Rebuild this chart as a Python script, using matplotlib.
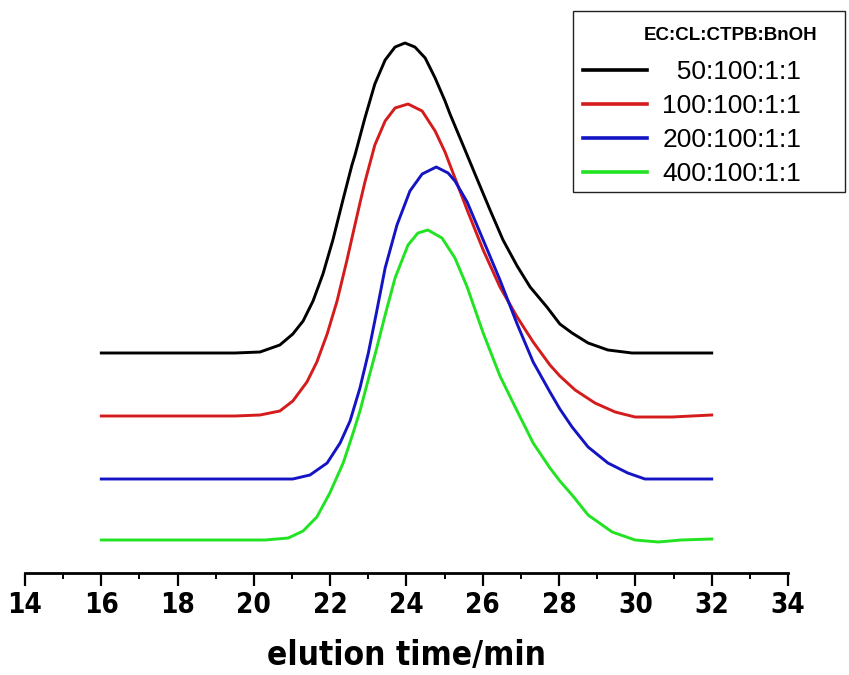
import numpy as np
import matplotlib
matplotlib.use("Agg")
import matplotlib.pyplot as plt
from matplotlib import font_manager as fm
from matplotlib.patches import Rectangle
from matplotlib.ticker import MultipleLocator

x_black = [16, 18, 19.5, 20.16, 20.68, 21.02, 21.29, 21.55, 21.81, 22.07, 22.34, 22.57, 22.65,
           22.91, 23.17, 23.44, 23.70, 23.96, 24.22, 24.49, 24.75, 25.01, 25.14, 25.48, 25.85,
           26.19, 26.53, 26.90, 27.24, 27.68, 28.02, 28.34, 28.76, 29.28, 29.91, 31, 32]
y_black = [2.20, 2.20, 2.20, 2.21, 2.28, 2.39, 2.52, 2.72, 2.99, 3.33, 3.74, 4.08, 4.18,
           4.55, 4.89, 5.13, 5.26, 5.30, 5.26, 5.15, 4.95, 4.72, 4.59, 4.28, 3.94,
           3.63, 3.33, 3.07, 2.86, 2.66, 2.49, 2.40, 2.30, 2.23, 2.20, 2.20, 2.20]

x_red = [16, 18, 19.5, 20.16, 20.68, 21.02, 21.39, 21.65, 21.92, 22.18, 22.44, 22.60, 22.78,
         22.91, 23.17, 23.44, 23.70, 24.04, 24.41, 24.75, 25.01, 25.14, 25.59, 26.01, 26.45,
         26.90, 27.32, 27.76, 28.02, 28.42, 28.94, 29.47, 29.99, 30.96, 32]
y_red = [1.57, 1.57, 1.57, 1.58, 1.62, 1.72, 1.91, 2.11, 2.39, 2.72, 3.13, 3.40, 3.70,
         3.91, 4.28, 4.52, 4.65, 4.69, 4.62, 4.42, 4.21, 4.08, 3.63, 3.23, 2.86,
         2.56, 2.31, 2.08, 1.97, 1.83, 1.70, 1.61, 1.56, 1.56, 1.58]

x_blue = [16, 18, 20.2, 21.02, 21.47, 21.92, 22.26, 22.52, 22.78, 23.0, 23.2, 23.44, 23.75,
          24.09, 24.41, 24.78, 25.09, 25.27, 25.59, 26.01, 26.45, 26.90, 27.32, 27.76, 28.02,
          28.34, 28.76, 29.28, 29.80, 30.25, 31, 32]
y_blue = [0.94, 0.94, 0.94, 0.94, 0.98, 1.10, 1.30, 1.52, 1.85, 2.20, 2.58, 3.05, 3.48,
          3.82, 3.99, 4.06, 4.00, 3.92, 3.71, 3.33, 2.93, 2.49, 2.11, 1.81, 1.64,
          1.46, 1.26, 1.10, 1.00, 0.94, 0.94, 0.94]

x_green = [16, 18, 20.3, 20.9, 21.29, 21.65, 21.99, 22.34, 22.6, 22.78, 22.96, 23.2, 23.44,
           23.70, 24.04, 24.30, 24.56, 24.93, 25.27, 25.59, 26.01, 26.45, 26.90, 27.32, 27.76,
           28.02, 28.34, 28.76, 29.39, 29.99, 30.6, 31.2, 32]
y_green = [0.33, 0.33, 0.33, 0.35, 0.42, 0.56, 0.80, 1.10, 1.40, 1.62, 1.88, 2.22, 2.58,
           2.95, 3.28, 3.40, 3.43, 3.35, 3.15, 2.86, 2.40, 1.97, 1.62, 1.30, 1.05,
           0.92, 0.78, 0.58, 0.41, 0.33, 0.31, 0.33, 0.34]

labels = ["  50:100:1:1", "100:100:1:1", "200:100:1:1", "400:100:1:1"]
colors = ["#000000", "#d41c1c", "#1414c4", "#22e322"]
legend_title = "EC:CL:CTPB:BnOH"
x_ticks = [14, 16, 18, 20, 22, 24, 26, 28, 30, 32, 34]


def pick_narrow():
    # prefer a condensed bold face if one is installed
    for fam, st in [("Liberation Sans Narrow", "normal"), ("DejaVu Sans", "condensed")]:
        fp = fm.FontProperties(family=fam, weight="bold", stretch=st)
        try:
            path = fm.findfont(fp, fallback_to_default=False)
        except Exception:
            continue
        if "Narrow" in path or "Condensed" in path:
            return fm.FontProperties(fname=path)
    return fm.FontProperties(family="Liberation Sans", weight="bold")


narrow = pick_narrow()
W, H = 849, 675

fig = plt.figure(figsize=(8.49, 6.75), dpi=100)
ax = fig.add_axes([25 / W, 1 - 573 / H, (788 - 25) / W, (573 - 20) / H])

series = [(x_black, y_black), (x_red, y_red), (x_blue, y_blue), (x_green, y_green)]
for (xs, ys), c, lab in zip(series, colors, labels):
    ax.plot(xs, ys, color=c, lw=2.1, label=lab, solid_joinstyle="round")

ax.set_xlim(14, 34)
ax.set_ylim(0, 5.53)
for s in ["left", "right", "top"]:
    ax.spines[s].set_visible(False)
ax.spines["bottom"].set_linewidth(2.0)
ax.set_yticks([])
ax.set_xticks(x_ticks)
ax.xaxis.set_minor_locator(MultipleLocator(1))
ax.tick_params(axis="x", which="major", length=9, width=1.6, direction="out", pad=4)
ax.tick_params(axis="x", which="minor", length=4.5, width=1.4, direction="out")
for t in ax.get_xticklabels():
    t.set_fontproperties(narrow)
    t.set_fontsize(20)

xl = ax.set_xlabel("elution time/min", labelpad=14)
xl.set_fontproperties(narrow)
xl.set_fontsize(24)

# legend: frame and title drawn separately so they sit where the original has them
fig.patches.append(Rectangle((573 / W, 1 - 192 / H), 272 / W, 181 / H,
                             transform=fig.transFigure, fill=False,
                             ec="#222222", lw=1.0))
fig.text(731 / W, 1 - 36 / H, legend_title, ha="center", va="center",
         family="Liberation Sans", weight="bold", size=13.5)
leg = ax.legend(loc="center left", bbox_to_anchor=(583 / W, 1 - 123 / H),
                bbox_transform=fig.transFigure, borderaxespad=0, borderpad=0,
                frameon=False, prop={"family": "Liberation Sans", "size": 19},
                handlelength=2.42, handletextpad=0.58, labelspacing=0.38)
for ln in leg.get_lines():
    ln.set_linewidth(2.6)

fig.savefig("out.png", dpi=100)
